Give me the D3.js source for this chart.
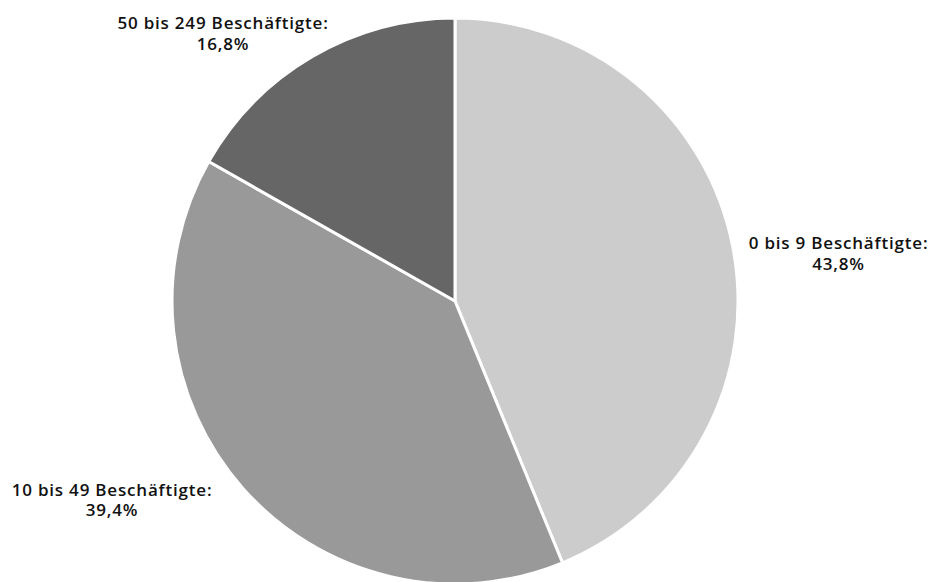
<!DOCTYPE html>
<html><head><meta charset="utf-8">
<script src="https://cdn.jsdelivr.net/npm/d3@7"></script>
<style>body{margin:0;background:#fff;}svg{display:block;}</style>
</head><body>
<svg id="chart" width="931" height="582"></svg>
<script>
const categories = ["0 bis 9 Beschäftigte:", "10 bis 49 Beschäftigte:", "50 bis 249 Beschäftigte:"];
const values = [43.8, 39.4, 16.8];
const valueLabels = ["43,8%", "39,4%", "16,8%"];
const colors = ["#cccccc", "#999999", "#666666"];
// label centres (layout): x centre, first baseline
const labelPos = [[838.5, 249], [112, 495.5], [223, 29]];

const svg = d3.select("#chart");
const cx = 455, cy = 301, R = 283;
const pie = d3.pie().sort(null).value(d => d)(values);
const arc = d3.arc().innerRadius(0).outerRadius(R);
const g = svg.append("g").attr("transform", `translate(${cx},${cy})`);
g.selectAll("path").data(pie).join("path")
  .attr("d", arc)
  .attr("fill", (d, i) => colors[i])
  .attr("stroke", "#fff").attr("stroke-width", 3).attr("stroke-linejoin", "round");

const lbl = svg.append("g").attr("font-family", "'Open Sans', sans-serif")
  .attr("font-weight", 600).attr("font-size", 17).attr("letter-spacing", 0.8).attr("fill", "#111");
categories.forEach((c, i) => {
  const t = lbl.append("text").attr("text-anchor", "middle")
    .attr("x", labelPos[i][0]).attr("y", labelPos[i][1]);
  t.append("tspan").attr("x", labelPos[i][0]).attr("dy", 0).text(c);
  t.append("tspan").attr("x", labelPos[i][0]).attr("dy", 20.5).text(valueLabels[i]);
});
</script>
</body></html>
